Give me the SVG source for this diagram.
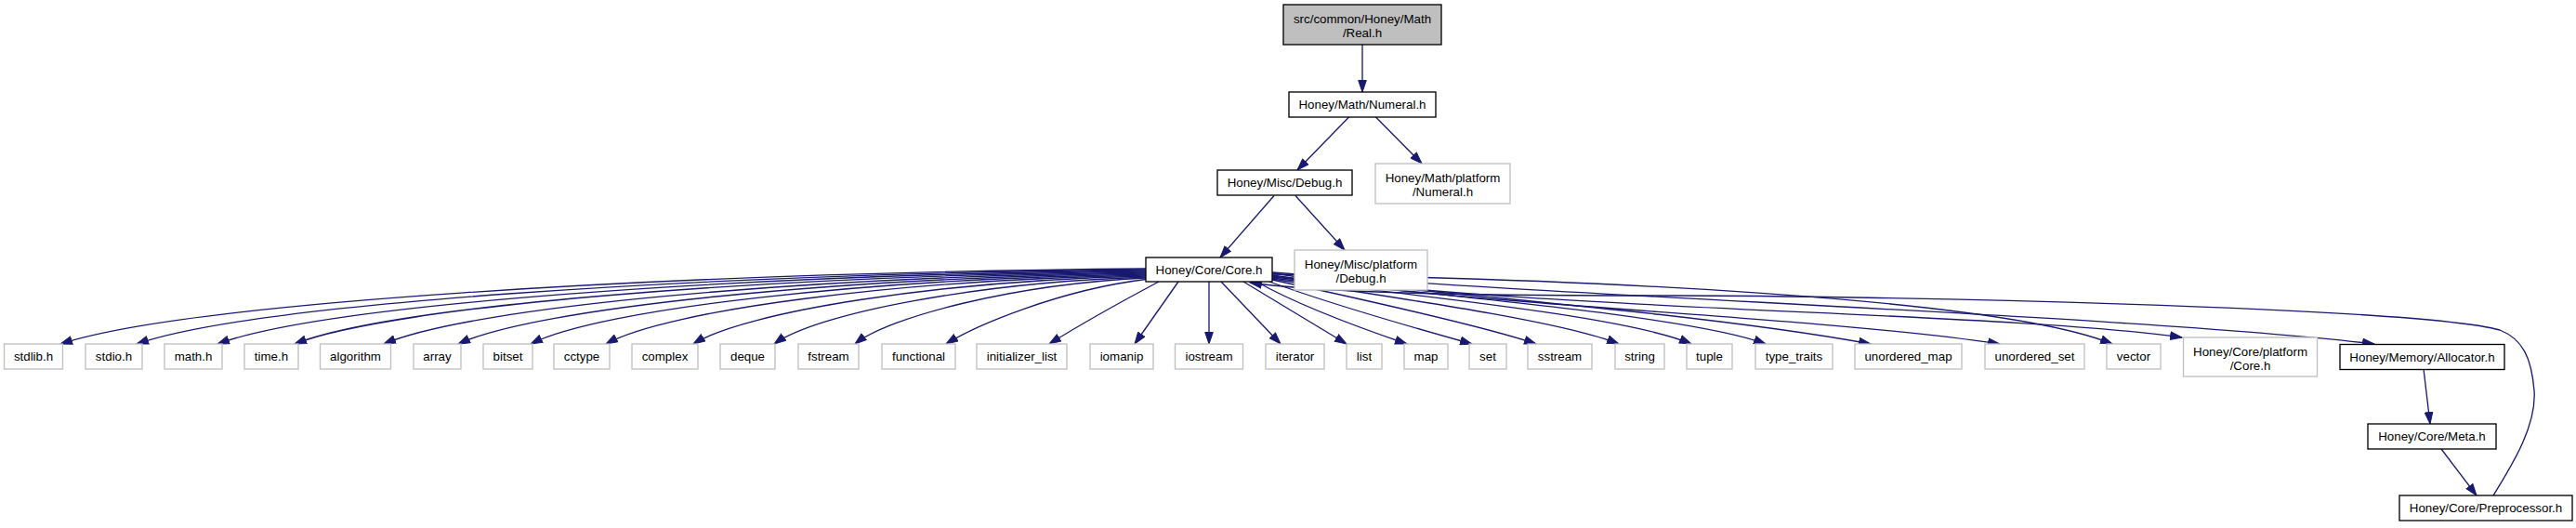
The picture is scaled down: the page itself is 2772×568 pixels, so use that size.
<svg xmlns="http://www.w3.org/2000/svg" width="2772" height="568" viewBox="0 0 2772 568">
<style>
  .n rect { fill: #ffffff; stroke: #000000; stroke-width: 1.33; }
  .ext rect { fill: #ffffff; stroke: #bfbfbf; stroke-width: 1.33; }
  .root rect { fill: #bfbfbf; stroke: #000000; stroke-width: 1.33; }
  text { font-family: "Liberation Sans", Arial, Helvetica, sans-serif; font-size: 13.33px; fill: #000000; text-anchor: middle; }
  #edges path { fill: none; stroke: #191970; stroke-width: 1.33; marker-end: url(#ah); }
</style>
<defs>
  <marker id="ah" viewBox="0 0 14 10" refX="13" refY="5" markerWidth="14" markerHeight="10" markerUnits="userSpaceOnUse" orient="auto">
    <path d="M0.5,0.7 L13,5 L0.5,9.3 Z" fill="#191970" stroke="#191970" stroke-width="1"/>
  </marker>
</defs>
<rect width="2772" height="568" fill="#ffffff"/>

<g id="edges">
  <path d="M1466,48 L1466,99"/>
  <path d="M1452,125.5 L1396,183"/>
  <path d="M1480,125.5 L1530,176"/>
  <path d="M1371,210.5 L1313,277"/>
  <path d="M1394,210.5 L1447,269"/>

  <path d="M1233,289 C700,294 200,326 65,370"/>
  <path d="M1233,290 C738,295 272,327 147,370"/>
  <path d="M1233,291 C778,296 349,328 234,370"/>
  <path d="M1233,292 C815,297 422,329 317,370"/>
  <path d="M1233,293 C859,298 507,330 413,370"/>
  <path d="M1233,294 C896,299 578,331 493,370"/>
  <path d="M1233,295 C931,300 647,332 571,370"/>
  <path d="M1233,296 C968,301 719,333 652,370"/>
  <path d="M1233,297 C1011,302 802,335 746,370"/>
  <path d="M1233,298 C1051,304 879,337 833,370"/>
  <path d="M1233,299 C1090,306 956,341 920,370"/>
  <path d="M1233,300.5 C1140,312 1050,350 1018,370"/>
  <path d="M1247,303 C1215,320 1158,352 1129,370"/>
  <path d="M1268,303 L1221,370"/>
  <path d="M1301,303 L1301,370"/>

  <path d="M1314,303 L1378,370"/>
  <path d="M1338,303 L1449,370"/>
  <path d="M1352,303 C1400,330 1470,355 1514,370"/>
  <path d="M1366,303 C1440,330 1530,355 1584,370"/>
  <path d="M1369,301 C1480,325 1600,352 1653,370"/>
  <path d="M1369,300 C1500,320 1680,345 1742,370"/>
  <path d="M1369,299 C1520,318 1750,340 1820,370"/>
  <path d="M1369,298 C1550,318 1820,340 1900,370"/>
  <path d="M1369,297 C1600,320 1850,340 2013,370"/>
  <path d="M1369,296 C1600,330 1950,340 2152,370"/>
  <path d="M1369,295 C1700,300 2150,320 2273,370"/>
  <path d="M1369,294 C1650,335 2150,335 2348,363"/>
  <path d="M1369,293 C1700,320 2300,340 2555,370"/>

  <path d="M2683,533 C2700,505 2730,460 2727,420 C2724,385 2715,365 2690,355 C2600,330 2000,318 1800,318 C1600,318 1430,316 1345,304"/>

  <path d="M2608,397 L2615,456"/>
  <path d="M2627,483 L2665,533"/>
</g>

<g id="n_real" class="root"><rect x="1381" y="5" width="170" height="43"/><text x="1466" y="25">src/common/Honey/Math</text><text x="1466" y="40">/Real.h</text></g>
<g id="n_numeral" class="n"><rect x="1387" y="99" width="158" height="27"/><text x="1466" y="117">Honey/Math/Numeral.h</text></g>
<g id="n_debug" class="n"><rect x="1310" y="183" width="145" height="27"/><text x="1382.5" y="201">Honey/Misc/Debug.h</text></g>
<g id="n_mathplat" class="ext"><rect x="1480" y="176" width="145" height="43"/><text x="1552.5" y="196">Honey/Math/platform</text><text x="1552.5" y="211">/Numeral.h</text></g>
<g id="n_core" class="n"><rect x="1233" y="277" width="136" height="26"/><text x="1301" y="294.7">Honey/Core/Core.h</text></g>
<g id="n_miscplat" class="ext"><rect x="1393" y="269" width="143" height="43"/><text x="1464.5" y="289">Honey/Misc/platform</text><text x="1464.5" y="304">/Debug.h</text></g>

<g id="n_stdlib" class="ext"><rect x="4.5" y="370" width="63" height="27"/><text x="36" y="388">stdlib.h</text></g>
<g id="n_stdio" class="ext"><rect x="92" y="370" width="61" height="27"/><text x="122.5" y="388">stdio.h</text></g>
<g id="n_math" class="ext"><rect x="177" y="370" width="62" height="27"/><text x="208" y="388">math.h</text></g>
<g id="n_time" class="ext"><rect x="263" y="370" width="58" height="27"/><text x="292" y="388">time.h</text></g>
<g id="n_algorithm" class="ext"><rect x="344.5" y="370" width="76" height="27"/><text x="382.5" y="388">algorithm</text></g>
<g id="n_array" class="ext"><rect x="445" y="370" width="51" height="27"/><text x="470.5" y="388">array</text></g>
<g id="n_bitset" class="ext"><rect x="520" y="370" width="53" height="27"/><text x="546.5" y="388">bitset</text></g>
<g id="n_cctype" class="ext"><rect x="596" y="370" width="60" height="27"/><text x="626" y="388">cctype</text></g>
<g id="n_complex" class="ext"><rect x="680" y="370" width="71" height="27"/><text x="715.5" y="388">complex</text></g>
<g id="n_deque" class="ext"><rect x="775" y="370" width="59" height="27"/><text x="804.5" y="388">deque</text></g>
<g id="n_fstream" class="ext"><rect x="859" y="370" width="65" height="27"/><text x="891.5" y="388">fstream</text></g>
<g id="n_functional" class="ext"><rect x="949" y="370" width="79" height="27"/><text x="988.5" y="388">functional</text></g>
<g id="n_initlist" class="ext"><rect x="1051" y="370" width="97" height="27"/><text x="1099.5" y="388">initializer_list</text></g>
<g id="n_iomanip" class="ext"><rect x="1173" y="370" width="68" height="27"/><text x="1207" y="388">iomanip</text></g>
<g id="n_iostream" class="ext"><rect x="1264.5" y="370" width="73" height="27"/><text x="1301" y="388">iostream</text></g>
<g id="n_iterator" class="ext"><rect x="1362" y="370" width="63" height="27"/><text x="1393.5" y="388">iterator</text></g>
<g id="n_list" class="ext"><rect x="1449" y="370" width="38" height="27"/><text x="1468" y="388">list</text></g>
<g id="n_map" class="ext"><rect x="1511" y="370" width="47" height="27"/><text x="1534.5" y="388">map</text></g>
<g id="n_set" class="ext"><rect x="1581" y="370" width="40" height="27"/><text x="1601" y="388">set</text></g>
<g id="n_sstream" class="ext"><rect x="1644" y="370" width="69" height="27"/><text x="1678.5" y="388">sstream</text></g>
<g id="n_string" class="ext"><rect x="1738" y="370" width="53" height="27"/><text x="1764.5" y="388">string</text></g>
<g id="n_tuple" class="ext"><rect x="1815" y="370" width="49" height="27"/><text x="1839.5" y="388">tuple</text></g>
<g id="n_typetraits" class="ext"><rect x="1889" y="370" width="83" height="27"/><text x="1930.5" y="388">type_traits</text></g>
<g id="n_umap" class="ext"><rect x="1996" y="370" width="115" height="27"/><text x="2053.5" y="388">unordered_map</text></g>
<g id="n_uset" class="ext"><rect x="2136" y="370" width="107" height="27"/><text x="2189.5" y="388">unordered_set</text></g>
<g id="n_vector" class="ext"><rect x="2267" y="370" width="58" height="27"/><text x="2296" y="388">vector</text></g>
<g id="n_coreplat" class="ext"><rect x="2349.5" y="363" width="144" height="42"/><text x="2421.5" y="383">Honey/Core/platform</text><text x="2421.5" y="398">/Core.h</text></g>
<g id="n_allocator" class="n"><rect x="2518" y="370.5" width="177" height="27"/><text x="2606.5" y="388.5">Honey/Memory/Allocator.h</text></g>
<g id="n_meta" class="n"><rect x="2548" y="456" width="138" height="27"/><text x="2617" y="474">Honey/Core/Meta.h</text></g>
<g id="n_preproc" class="n"><rect x="2582" y="533" width="186" height="27"/><text x="2675" y="551">Honey/Core/Preprocessor.h</text></g>
</svg>
